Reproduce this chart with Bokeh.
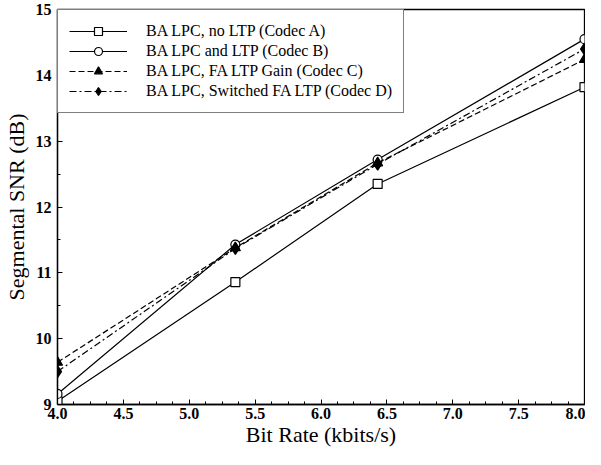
from bokeh.plotting import figure
from bokeh.models import Range1d, Legend, LegendItem, FixedTicker
from bokeh.embed import file_html
from bokeh.resources import INLINE

bit_rate = [4.0, 5.35, 6.43, 8.0]
codec_a = [9.05, 10.86, 12.35, 13.82]
codec_b = [9.16, 11.43, 12.72, 14.55]
codec_c = [9.64, 11.38, 12.67, 14.24]
codec_d = [9.50, 11.37, 12.65, 14.40]
labels = ["BA LPC, no LTP (Codec A)", "BA LPC and LTP (Codec B)",
          "BA LPC, FA LTP Gain (Codec C)", "BA LPC, Switched FA LTP (Codec D)"]
x_ticks = [4.0, 4.5, 5.0, 5.5, 6.0, 6.5, 7.0, 7.5, 8.0]
y_ticks = [9, 10, 11, 12, 13, 14, 15]

FONT = "Liberation Serif"

p = figure(width=585, height=449, output_backend="svg", toolbar_location=None,
           x_range=Range1d(4.0, 8.0), y_range=Range1d(9, 15),
           min_border_left=52, min_border_right=1, min_border_top=9, min_border_bottom=30)
p.grid.visible = False
p.outline_line_color = "black"
p.outline_line_width = 1.3
p.background_fill_color = "white"
p.border_fill_color = "white"

series = [codec_a, codec_b, codec_c, codec_d]
dashes = ["solid", "solid", "6 3", "7 3 2 3"]
markers = ["square", "circle", "triangle", "diamond"]
fills = ["white", "white", "black", "black"]
sizes = [9, 9, 10, 12]
items = []
for ys, dash, mk, fc, sz, lab in zip(series, dashes, markers, fills, sizes, labels):
    r1 = p.line(bit_rate, ys, line_color="black", line_width=1.2, line_dash=dash)
    r2 = p.scatter(bit_rate, ys, marker=mk, size=sz, fill_color=fc, line_color="black", line_width=1.2)
    items.append(LegendItem(label=lab, renderers=[r1, r2]))

legend = Legend(items=items, location="top_left", border_line_color="black", border_line_width=1.2,
                label_text_font=FONT, label_text_font_size="16px", label_text_color="black",
                glyph_width=58, glyph_height=20, label_height=20, spacing=0, padding=11,
                margin=0, label_standoff=19, background_fill_alpha=1.0)
p.add_layout(legend)

for ax in (p.xaxis[0], p.yaxis[0]):
    ax.major_label_text_font = FONT
    ax.major_label_text_font_size = "16px"
    ax.major_label_text_font_style = "bold"
    ax.major_label_text_color = "black"
    ax.axis_label_text_font = FONT
    ax.axis_label_text_font_size = "22px"
    ax.axis_label_text_font_style = "normal"
    ax.axis_label_text_color = "black"
    ax.major_tick_in = 5
    ax.major_tick_out = 0
    ax.minor_tick_in = 3
    ax.minor_tick_out = 0
    ax.axis_line_width = 1.3
    ax.axis_line_color = "black"
    ax.major_tick_line_color = "black"
    ax.minor_tick_line_color = "black"

p.xaxis.major_label_standoff = 3
p.xaxis.axis_label_standoff = 0
p.yaxis.major_label_standoff = 6
p.yaxis.axis_label_standoff = 4

p.xaxis.ticker = FixedTicker(ticks=x_ticks, minor_ticks=[4.0 + 0.125 * i for i in range(33)])
p.yaxis.ticker = FixedTicker(ticks=y_ticks, minor_ticks=[9 + 0.5 * i for i in range(13)])
p.xaxis.axis_label = "Bit Rate (kbits/s)"
p.yaxis.axis_label = "Segmental SNR (dB)"
p.xaxis.major_label_overrides = {t: f"{t:.1f}" for t in x_ticks}

open("out.html", "w").write(file_html(p, INLINE))
